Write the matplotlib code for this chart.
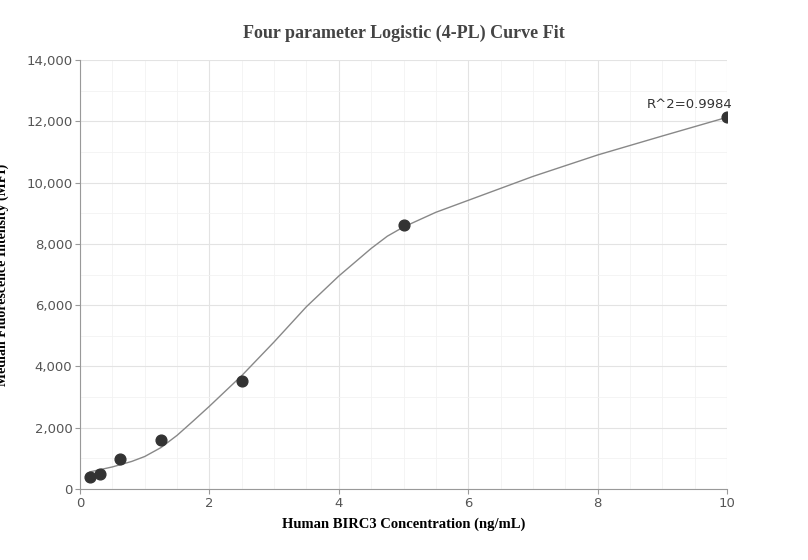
import numpy as np
import matplotlib
matplotlib.use('Agg')
from matplotlib import pyplot as plt
from matplotlib.ticker import MultipleLocator, FuncFormatter

# standards
conc = [0.156, 0.3125, 0.625, 1.25, 2.5, 5, 10]
mfi = [380, 500, 980, 1600, 3520, 8600, 12130]

# fitted curve
fitX = [0.156, 0.5, 0.8, 1.0, 1.25, 1.5, 1.75, 2.0, 2.5, 3.0, 3.5, 4.0, 4.5, 4.75, 5.0, 5.5, 6.0, 7.0, 8.0, 9.0, 10.0]
fitY = [560, 720, 900, 1060, 1350, 1750, 2220, 2700, 3700, 4800, 5950, 6950, 7850, 8250, 8550, 9030, 9420, 10200, 10900, 11520, 12130]

fig = plt.figure(figsize=(8.08, 5.6), dpi=100)
ax = fig.add_axes([80/808, 71/560, 647/808, 429/560])

ax.plot(fitX, fitY, color='#888888', lw=1)
ax.scatter(conc, mfi, s=60, color='#333333', zorder=3)
ax.annotate('R^2=0.9984', (conc[-1], mfi[-1]), xytext=(-27, 7),
            textcoords='offset points', fontsize=9.5, color='#333333', ha='center')

ax.set_xlim(0, 10)
ax.set_ylim(0, 14000)
ax.xaxis.set_major_locator(MultipleLocator(2))
ax.xaxis.set_minor_locator(MultipleLocator(0.5))
ax.yaxis.set_major_locator(MultipleLocator(2000))
ax.yaxis.set_minor_locator(MultipleLocator(1000))
ax.yaxis.set_major_formatter(FuncFormatter(lambda v, p: f'{int(v):,}'))
ax.grid(which='major', color='#e3e3e3', lw=0.8)
ax.grid(which='minor', color='#f2f2f2', lw=0.6)
ax.set_axisbelow(True)
for s in ['top', 'right']:
    ax.spines[s].set_visible(False)
for s in ['left', 'bottom']:
    ax.spines[s].set_color('#999999')
ax.tick_params(which='both', colors='#999999', labelcolor='#555555', labelsize=9.5, pad=2)
ax.tick_params(which='minor', length=0)

ax.set_title('Four parameter Logistic (4-PL) Curve Fit', fontfamily='Liberation Serif',
             fontweight='bold', fontsize=13, color='#444444', pad=16)
ax.set_xlabel('Human BIRC3 Concentration (ng/mL)', fontfamily='Liberation Serif',
              fontweight='bold', fontsize=10.5, labelpad=6)
ax.set_ylabel('Median Fluorescence Intensity (MFI)', fontfamily='Liberation Serif',
              fontweight='bold', fontsize=10, labelpad=2)
ax.yaxis.set_label_coords(-0.11, 0.5)

fig.savefig('out.png', dpi=100)
